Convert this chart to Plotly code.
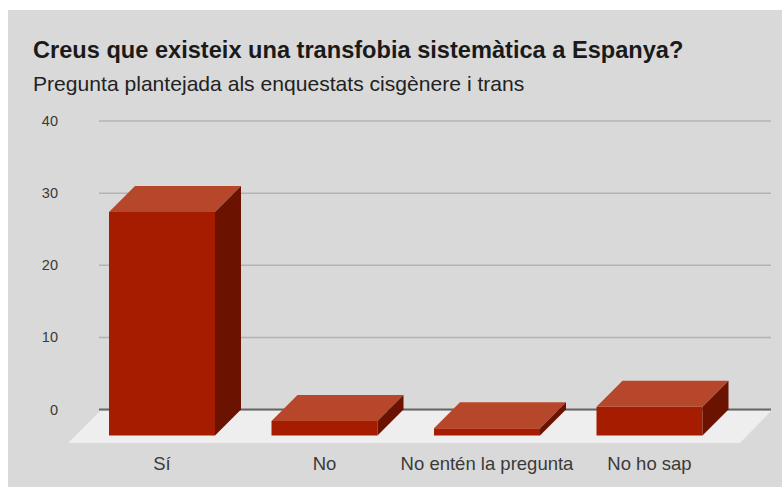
import plotly.graph_objects as go

categories = ["Sí", "No", "No entén la pregunta", "No ho sap"]
values = [31, 2, 1, 4]
y_ticks = [0, 10, 20, 30, 40]

WIDTH, HEIGHT = 782, 488
L, R, T, B = 62, 7, 115, 43
PX_PER_CAT = 162.5
CAT0_PX = 162
PX_PER_UNIT = 7.21
ZERO_PX = 409.5
BAR_W = 106 / PX_PER_CAT
DEPTH_X = 26 / PX_PER_CAT
DEPTH_Y = 26 / PX_PER_UNIT
FRONT = "#a61c00"
TOP = "#b7472a"
SIDE = "#6b1300"
PANEL = "#d9d9d9"
FLOOR = "#eeeeee"
GRID = "#b3b3b3"
AXIS = "#666666"
TXT = "#3a3a3a"


def xd(px):
    return (px - CAT0_PX) / PX_PER_CAT


def yd(px):
    return (ZERO_PX - px) / PX_PER_UNIT


fig = go.Figure()
idx = list(range(len(categories)))

fig.add_trace(go.Bar(
    x=idx, y=values, base=[-DEPTH_Y] * len(values), width=BAR_W,
    marker=dict(color=FRONT, line=dict(width=0)), name="Front", hoverinfo="x+y",
))

for i, v in zip(idx, values):
    l, r = i - BAR_W / 2, i + BAR_W / 2
    ft = v - DEPTH_Y
    fig.add_trace(go.Scatter(
        x=[l, r, r + DEPTH_X, l + DEPTH_X, l],
        y=[ft, ft, v, v, ft],
        mode="lines", fill="toself", fillcolor=TOP, line=dict(width=0),
        hoverinfo="skip",
    ))
    fig.add_trace(go.Scatter(
        x=[r, r + DEPTH_X, r + DEPTH_X, r, r],
        y=[-DEPTH_Y, 0, v, ft, -DEPTH_Y],
        mode="lines", fill="toself", fillcolor=SIDE, line=dict(width=0),
        hoverinfo="skip",
    ))

shapes = [dict(
    type="rect", xref="paper", yref="paper", layer="below",
    x0=(8 - L) / (WIDTH - L - R), x1=(WIDTH - L) / (WIDTH - L - R),
    y0=(HEIGHT - 487 - B) / (HEIGHT - T - B), y1=(HEIGHT - 10 - B) / (HEIGHT - T - B),
    fillcolor=PANEL, line=dict(width=0),
)]
for t in y_ticks[1:]:
    shapes.append(dict(type="line", layer="below", xref="x", yref="y",
                       x0=xd(99), x1=xd(771), y0=t, y1=t,
                       line=dict(color=GRID, width=1.5)))
shapes.append(dict(
    type="path", layer="below", xref="x", yref="y", line=dict(width=0), fillcolor=FLOOR,
    path=f"M {xd(68)} {yd(443)} L {xd(100)} {yd(411)} L {xd(771)} {yd(411)} L {xd(740)} {yd(443)} Z",
))
shapes.append(dict(type="line", layer="below", xref="x", yref="y",
                   x0=xd(99), x1=xd(771), y0=0, y1=0,
                   line=dict(color=AXIS, width=2)))

fig.update_layout(
    width=WIDTH, height=HEIGHT, autosize=False,
    margin=dict(l=L, r=R, t=T, b=B),
    paper_bgcolor="white", plot_bgcolor="rgba(0,0,0,0)",
    showlegend=False,
    font=dict(family="Liberation Sans, Arial, sans-serif", color=TXT),
    shapes=shapes,
    title=dict(
        text="<b>Creus que existeix una transfobia sistemàtica a Espanya?</b>",
        x=33 / WIDTH, xanchor="left", xref="container",
        y=1 - 50 / HEIGHT, yanchor="middle", yref="container",
        font=dict(size=23.6, color="#1a1a1a"),
    ),
    annotations=[dict(
        text="Pregunta plantejada als enquestats cisgènere i trans",
        xref="paper", yref="paper", showarrow=False,
        x=(33 - L) / (WIDTH - L - R), xanchor="left",
        y=(HEIGHT - 84 - B) / (HEIGHT - T - B), yanchor="middle",
        xshift=-2,
        font=dict(size=21.1, color="#222222"),
    )],
    xaxis=dict(
        range=[xd(L), xd(WIDTH - R)], tickmode="array", tickvals=idx, ticktext=categories,
        showgrid=False, zeroline=False, showline=False, ticks="",
        tickfont=dict(size=18.5, color=TXT), ticklabelstandoff=5,
    ),
    yaxis=dict(
        range=[yd(HEIGHT - B), yd(T)], tickmode="array", tickvals=y_ticks,
        showgrid=False, zeroline=False, showline=False, ticks="",
        tickfont=dict(size=14.5, color=TXT), ticklabelstandoff=3,
    ),
)

fig.write_html("out.html", post_script="document.body.style.margin='0';",
               config={"displayModeBar": False})
